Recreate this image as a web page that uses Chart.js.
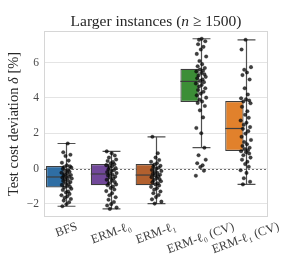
<!DOCTYPE html>
<html>
<head>
<meta charset="utf-8">
<script src="https://cdn.jsdelivr.net/npm/chart.js@4"></script>
<style>
  html, body { margin: 0; padding: 0; background: #fff; }
</style>
</head>
<body>
<canvas id="myChart" width="299" height="256"></canvas>
<script>
// categorias e estatísticas
const categorias = ['BFS', 'ERM-ℓ₀', 'ERM-ℓ₁', 'ERM-ℓ₀ (CV)', 'ERM-ℓ₁ (CV)'];
const q1 = [-1.08, -0.95, -0.95, 3.77, 0.99];
const medianas = [-0.48, -0.31, -0.37, 4.94, 2.27];
const q3 = [0.14, 0.25, 0.25, 5.66, 3.83];
const bigodeMin = [-2.14, -2.29, -1.99, 1.18, -0.90];
const bigodeMax = [1.42, 0.97, 1.80, 7.36, 7.30];
const cores = ['#2f6ea4', '#714899', '#b2602e', '#3c8e37', '#e1812c'];
const yTicks = [-2, 0, 2, 4, 6];

// pontos individuais (estimados do strip plot)
const pontosBFS = [1.42, 0.92, 0.78, 0.71, 0.45, 0.33, 0.18, 0.12, 0.09, 0.05, -0.02, -0.08, -0.14, -0.19, -0.24, -0.28,
  -0.33, -0.37, -0.41, -0.46, -0.48, -0.52, -0.57, -0.61, -0.66, -0.71, -0.77, -0.82, -0.88, -0.93, -0.99, -1.04,
  -1.08, -1.15, -1.22, -1.30, -1.36, -1.44, -1.52, -1.58, -1.66, -1.73, -1.82, -1.91, -2.03, -2.14];
const pontosL0 = [0.97, 0.86, 0.74, 0.62, 0.51, 0.43, 0.36, 0.29, 0.24, 0.19, 0.13, 0.08, 0.02, -0.04, -0.10, -0.15,
  -0.20, -0.26, -0.31, -0.35, -0.40, -0.46, -0.52, -0.58, -0.64, -0.70, -0.77, -0.84, -0.90, -0.95, -1.02, -1.10,
  -1.19, -1.28, -1.40, -1.52, -1.63, -1.77, -1.90, -2.02, -2.10, -2.21, -2.29];
const pontosL1 = [1.80, 0.87, 0.62, 0.48, 0.38, 0.30, 0.22, 0.15, 0.10, 0.04, -0.02, -0.08, -0.14, -0.20, -0.25, -0.30,
  -0.35, -0.39, -0.44, -0.49, -0.55, -0.60, -0.66, -0.72, -0.78, -0.84, -0.90, -0.96, -1.04, -1.12, -1.20, -1.30,
  -1.40, -1.50, -1.62, -1.75, -1.88, -1.99];
const pontosL0cv = [7.36, 7.30, 7.22, 7.05, 6.90, 6.75, 6.50, 6.35, 6.10, 5.92, 5.80, 5.70, 5.62, 5.55, 5.50, 5.42,
  5.35, 5.28, 5.20, 5.12, 5.05, 4.97, 4.90, 4.82, 4.74, 4.65, 4.55, 4.45, 4.35, 4.25, 4.15, 4.02, 3.90, 3.80, 3.72,
  3.55, 3.30, 2.90, 2.30, 2.00, 1.18, 0.75, 0.50, 0.30, 0.18, 0.08, -0.12, -0.41];
const pontosL1cv = [7.30, 6.75, 5.75, 5.60, 5.45, 5.30, 5.05, 4.55, 4.20, 3.98, 3.92, 3.86, 3.80, 3.70, 3.50, 3.25,
  3.05, 2.88, 2.72, 2.60, 2.48, 2.35, 2.25, 2.12, 1.98, 1.80, 1.62, 1.50, 1.38, 1.28, 1.18, 1.10, 1.04, 0.98, 0.92,
  0.85, 0.75, 0.62, 0.50, 0.38, 0.25, 0.10, -0.10, -0.25, -0.55, -0.75, -0.90];
const jitter = [0.03, -0.07, 0.09, -0.02, 0.05, -0.10, 0.01, 0.08, -0.05, 0.11, -0.08, 0.04, -0.01, 0.07, -0.11, 0.02,
  -0.04, 0.10, -0.06, 0.06, 0.00, -0.09, 0.12, -0.03];

const grupos = [pontosBFS, pontosL0, pontosL1, pontosL0cv, pontosL1cv];
const pontos = [];
grupos.forEach((g, i) => g.forEach((v, k) => pontos.push({ x: i + jitter[(k + i * 5) % jitter.length], y: v })));

const SERIF = '"Liberation Serif", "DejaVu Serif", serif';

const extras = {
  id: 'extras',
  beforeDatasetsDraw(chart) {
    const { ctx, chartArea: a, scales: { x, y } } = chart;
    ctx.save();
    ctx.strokeStyle = '#d6d6d6';
    ctx.lineWidth = 1;
    ctx.strokeRect(a.left + 0.5, a.top + 0.5, a.right - a.left - 1, a.bottom - a.top - 1);
    // linha do zero
    const y0 = Math.round(y.getPixelForValue(0)) + 0.5;
    ctx.setLineDash([2, 2]);
    ctx.strokeStyle = '#707070';
    ctx.beginPath(); ctx.moveTo(a.left, y0); ctx.lineTo(a.right, y0); ctx.stroke();
    ctx.setLineDash([]);
    // bigodes
    const w = (x.getPixelForValue(1) - x.getPixelForValue(0)) * 0.2;
    ctx.strokeStyle = '#505050';
    ctx.lineWidth = 1.2;
    categorias.forEach((c, i) => {
      const cx = Math.round(x.getPixelForValue(i)) + 0.5;
      const yl = y.getPixelForValue(bigodeMin[i]);
      const yh = y.getPixelForValue(bigodeMax[i]);
      ctx.beginPath();
      ctx.moveTo(cx, yl); ctx.lineTo(cx, yh);
      ctx.moveTo(cx - w, yl); ctx.lineTo(cx + w, yl);
      ctx.moveTo(cx - w, yh); ctx.lineTo(cx + w, yh);
      ctx.stroke();
    });
    ctx.restore();
  },
  afterDatasetDraw(chart, args) {
    if (args.index !== 0) return;
    const { ctx, scales: { y } } = chart;
    const meta = chart.getDatasetMeta(0);
    ctx.save();
    ctx.strokeStyle = '#3d3d3d';
    ctx.lineWidth = 1.2;
    meta.data.forEach((bar, i) => {
      const ym = y.getPixelForValue(medianas[i]);
      ctx.beginPath();
      ctx.moveTo(bar.x - bar.width / 2, ym); ctx.lineTo(bar.x + bar.width / 2, ym);
      ctx.stroke();
    });
    ctx.restore();
  },
  afterDraw(chart) {
    const { ctx, chartArea: a, scales: { x } } = chart;
    ctx.save();
    ctx.fillStyle = '#262626';
    ctx.textBaseline = 'middle';
    // título
    const partes = [['Larger instances (', 'normal'], ['n', 'italic'], [' ≥ 1500)', 'normal']];
    const medir = (p) => { ctx.font = p[1] + ' 15.5px ' + SERIF; return ctx.measureText(p[0]).width; };
    let total = partes.reduce((s, p) => s + medir(p), 0);
    let px = (a.left + a.right) / 2 - total / 2;
    ctx.textAlign = 'left';
    partes.forEach(p => { const w = medir(p); ctx.fillText(p[0], px, 22); px += w; });
    // rótulo do eixo y
    const yl = [['Test cost deviation ', 'normal'], ['δ', 'italic'], [' [%]', 'normal']];
    const medirY = (p) => { ctx.font = p[1] + ' 14.5px ' + SERIF; return ctx.measureText(p[0]).width; };
    total = yl.reduce((s, p) => s + medirY(p), 0);
    ctx.save();
    ctx.translate(14, (a.top + a.bottom) / 2);
    ctx.rotate(-Math.PI / 2);
    px = -total / 2;
    yl.forEach(p => { const w = medirY(p); ctx.fillText(p[0], px, 0); px += w; });
    ctx.restore();
    // rótulos do eixo x (rotacionados, centralizados)
    const th = 20 * Math.PI / 180;
    ctx.font = '12.5px ' + SERIF;
    ctx.fillStyle = '#404040';
    ctx.textAlign = 'center';
    categorias.forEach((c, i) => {
      const L = ctx.measureText(c).width;
      const H = L * Math.sin(th) + 11 * Math.cos(th);
      ctx.save();
      ctx.translate(x.getPixelForValue(i), a.bottom + 4 + H / 2);
      ctx.rotate(-th);
      ctx.fillText(c, 0, 0);
      ctx.restore();
    });
    ctx.restore();
  }
};

const ctx = document.getElementById('myChart').getContext('2d');
const myChart = new Chart(ctx, {
  type: 'bar',
  data: {
    labels: categorias,
    datasets: [{
      label: 'caixas',
      data: q1.map((v, i) => [v, q3[i]]),
      backgroundColor: cores,
      borderColor: '#3d3d3d',
      borderWidth: 1.2,
      borderSkipped: false,
      barPercentage: 0.82,
      categoryPercentage: 1,
      order: 2
    }, {
      type: 'scatter',
      label: 'pontos',
      data: pontos,
      xAxisID: 'xs',
      backgroundColor: 'rgba(10,10,10,0.78)',
      borderColor: 'rgba(0,0,0,0.5)',
      borderWidth: 0.5,
      pointRadius: 1.8,
      order: 1
    }]
  },
  plugins: [extras],
  options: {
    responsive: false,
    animation: false,
    devicePixelRatio: 1,
    layout: { padding: { top: 31, right: 31, left: 0, bottom: 0 } },
    plugins: { legend: { display: false }, tooltip: { enabled: false } },
    scales: {
      x: {
        type: 'category',
        offset: true,
        grid: { display: false },
        border: { display: false },
        ticks: { display: false },
        afterFit: (s) => { s.height = 39; }
      },
      xs: {
        type: 'linear',
        position: 'bottom',
        offset: false,
        min: -0.5,
        max: 4.5,
        grid: { display: false, offset: false },
        border: { display: false },
        ticks: { display: false },
        afterFit: (s) => { s.height = 0; }
      },
      y: {
        min: -2.75,
        max: 7.8,
        afterBuildTicks: (s) => { s.ticks = yTicks.map(v => ({ value: v })); },
        afterFit: (s) => { s.width = 44; },
        grid: { color: '#e4e4e4', drawTicks: false, lineWidth: 1 },
        border: { display: false },
        ticks: {
          padding: 5,
          color: '#4a4a4a',
          font: { family: SERIF, size: 11.5 },
          callback: (v) => String(v).replace('-', '\u2212')
        }
      }
    }
  }
});
</script>
</body>
</html>
